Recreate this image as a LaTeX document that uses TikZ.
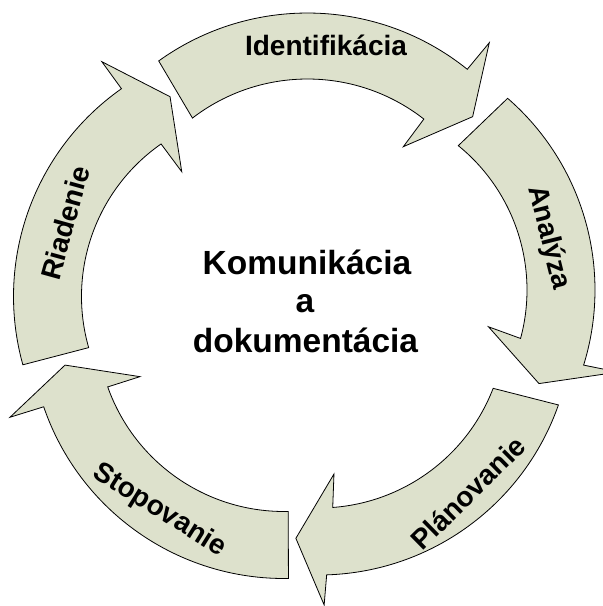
\documentclass[tikz,border=0pt]{standalone}
\usepackage{fontspec}
\setmainfont{Liberation Sans}
\definecolor{arrowfill}{RGB}{221,225,204}
\tikzset{
  cyclearrow/.style={fill=arrowfill, draw=black, line width=0.8pt, line join=miter},
  arrowlabel/.style={font=\bfseries\fontsize{28}{34}\selectfont, text height=20pt, text depth=0pt, inner sep=0pt},
  centerlabel/.style={font=\bfseries\fontsize{33.5}{40}\selectfont, anchor=base, inner sep=0pt},
}
\begin{document}
\begin{tikzpicture}[x=1pt,y=-1pt]
\useasboundingbox (0,0) rectangle (603,606);
\clip (0,0) rectangle (603,606);
\fill[white] (0,0) rectangle (603,606);
% Identifikacia
\begin{scope}[shift={(307.5,268)}]
\path[cyclearrow] (-125.7:255) arc[start angle=-125.7, end angle=-51.2, radius=255]
  -- (-51.1:289.5) -- (-42.5:224) -- (-51.7:154.6) -- (-52:189)
  arc[start angle=-52, end angle=-127.5, radius=189] -- cycle;
\end{scope}
% Analyza
\begin{scope}[shift={(341,290)}]
\path[cyclearrow] (-49:254) arc[start angle=-49, end angle=17.2, radius=254]
  -- (16.5:289) -- (25.3:219) -- (14:152) -- (15.1:186)
  arc[start angle=15.1, end angle=-50.9, radius=186] -- cycle;
\end{scope}
% Planovanie
\begin{scope}[shift={(318.7,321)}]
\path[cyclearrow] (19.3:254) arc[start angle=19.3, end angle=88.2, radius=254]
  -- (88.9:284) -- (96:218.5) -- (84.3:153.8) -- (85.7:187)
  arc[start angle=85.7, end angle=21.1, radius=187] -- cycle;
\end{scope}
% Stopovanie
\begin{scope}[shift={(284,324.5)}]
\path[cyclearrow] (89:254) arc[start angle=89, end angle=161.1, radius=254]
  -- (161.3:289.3) -- (169.5:222.7) -- (160.1:153.2) -- (160.5:187)
  arc[start angle=160.5, end angle=88.7, radius=187] -- cycle;
\end{scope}
% Riadenie
\begin{scope}[shift={(267.5,296.5)}]
\path[cyclearrow] (164.4:254) arc[start angle=164.4, end angle=234.9, radius=254]
  -- (234.8:287.4) -- (244:222.3) -- (235.5:151.4) -- (235.1:186)
  arc[start angle=235.1, end angle=164.05, radius=186] -- cycle;
\end{scope}
% labels
\node[arrowlabel] (lident) at (326,45) {Identifikácia};
\node[arrowlabel, rotate=-76] (lanal) at (551,237) {Analýza};
\node[arrowlabel, rotate=44.5] (lplan) at (468,493) {Plánovanie};
\node[arrowlabel, rotate=-32] (lstop) at (161,508) {Stopovanie};
\node[arrowlabel, rotate=74.5] (lriad) at (65,223) {Riadenie};
% center
\node[centerlabel] (c1) at (307,274) {Komunikácia};
\node[centerlabel] (c2) at (305,312.5) {a};
\node[centerlabel] (c3) at (305.5,352) {dokumentácia};
\end{tikzpicture}
\end{document}
